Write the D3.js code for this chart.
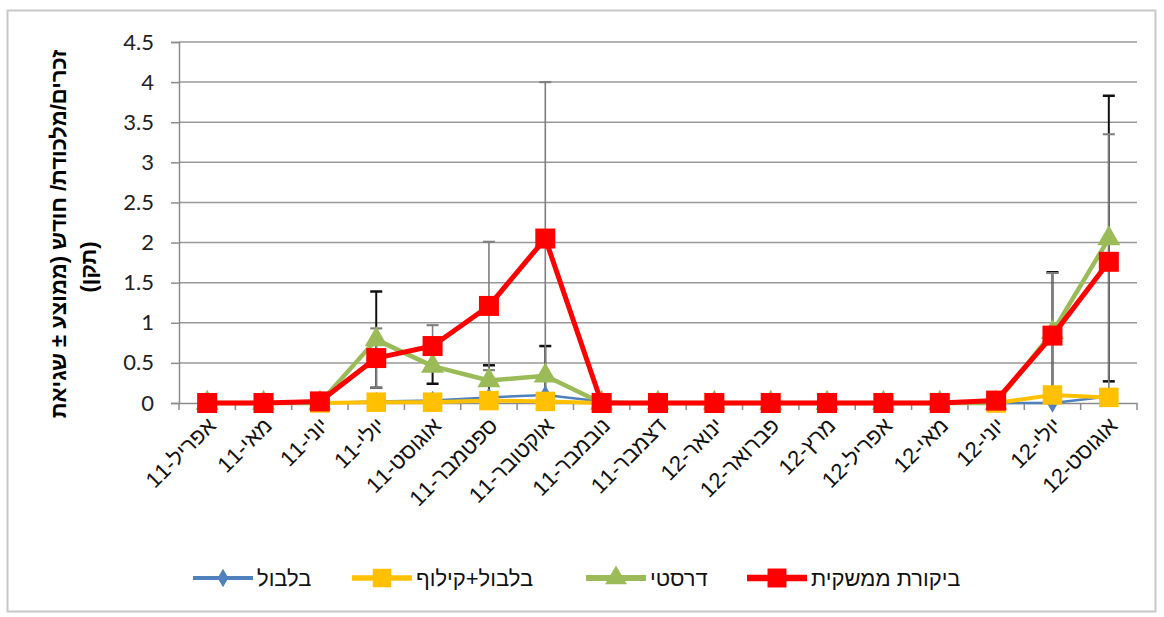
<!DOCTYPE html>
<html>
<head>
<meta charset="utf-8">
<script src="https://cdn.jsdelivr.net/npm/d3@7"></script>
<style>
  body { margin: 0; background: #fff; }
  text { font-family: 'Liberation Sans', Arial, sans-serif; }
</style>
</head>
<body>
<script>
// months on the x axis (Hebrew, mmm-yy)
const months = ['אפריל-11', 'מאי-11', 'יוני-11', 'יולי-11', 'אוגוסט-11', 'ספטמבר-11', 'אוקטובר-11',
  'נובמבר-11', 'דצמבר-11', 'ינואר-12', 'פברואר-12', 'מרץ-12', 'אפריל-12', 'מאי-12', 'יוני-12',
  'יולי-12', 'אוגוסט-12'];

const yTicks = [0, 0.5, 1, 1.5, 2, 2.5, 3, 3.5, 4, 4.5];

const blbul      = [0, 0, 0, 0.02, 0.03, 0.07, 0.1, 0.02, 0, 0, 0, 0, 0, 0, 0, 0, 0.08];
const blbulKilof = [0, 0, 0, 0.01, 0.01, 0.03, 0.02, 0, 0, 0, 0, 0, 0, 0, 0, 0.1, 0.07];
const drasti     = [0, 0, 0, 0.79, 0.46, 0.28, 0.34, 0, 0, 0, 0, 0, 0, 0, 0, 0.88, 2.05];
const bikoret    = [0, 0, 0.02, 0.56, 0.71, 1.21, 2.05, 0, 0, 0, 0, 0, 0, 0, 0.03, 0.84, 1.76];

// standard error (null = no bar)
const drastiErr  = [null, null, null, 0.6, 0.22, 0.19, 0.37, null, null, null, null, null, null, null, null, 0.75, 1.78];
const bikoretErr = [null, null, null, 0.37, 0.26, 0.8, 1.95, null, null, null, null, null, null, null, null, 0.78, 1.59];

const yTitle1 = 'זכרים/מלכודת/ חודש (ממוצע ± שגיאת';
const yTitle2 = '(תקן)';

const series = [
  { name: 'בלבול', values: blbul, color: '#4f81bd', symbol: d3.symbolDiamond, size: 110, width: 2.5 },
  { name: 'בלבול+קילוף', values: blbulKilof, color: '#ffc000', symbol: d3.symbolSquare, size: 380, width: 4 },
  { name: 'דרסטי', values: drasti, color: '#9bbb59', symbol: d3.symbolTriangle, size: 230, width: 4.5, err: drastiErr, errColor: '#111' },
  { name: 'ביקורת ממשקית', values: bikoret, color: '#ff0000', symbol: d3.symbolSquare, size: 400, width: 5, err: bikoretErr, errColor: '#7f7f7f' }
];

const W = 1164, H = 617;
const plot = { left: 179, right: 1137, top: 42, bottom: 403 };

const svg = d3.select('body').append('svg').attr('width', W).attr('height', H);

svg.append('rect')
  .attr('x', 7.5).attr('y', 10.5).attr('width', 1148).attr('height', 601)
  .attr('fill', '#fff').attr('stroke', '#c8c8c8').attr('stroke-width', 2);

const x = d3.scaleBand().domain(months).range([plot.left, plot.right]);
const y = d3.scaleLinear().domain([0, 4.5]).range([plot.bottom, plot.top]);
const cx = (i) => x(months[i]) + x.bandwidth() / 2;

// gridlines
svg.append('g').selectAll('line').data(yTicks.slice(1)).join('line')
  .attr('x1', plot.left).attr('x2', plot.right)
  .attr('y1', (d) => y(d)).attr('y2', (d) => y(d))
  .attr('stroke', '#989898').attr('stroke-width', 1.5);

// y axis
const yAxis = svg.append('g').attr('transform', `translate(${plot.left},0)`)
  .call(d3.axisLeft(y).tickValues(yTicks).tickFormat((d) => String(d)).tickSize(8).tickPadding(17));
yAxis.select('.domain').attr('stroke', '#8c8c8c').attr('stroke-width', 1.5);
yAxis.selectAll('.tick line').attr('stroke', '#8c8c8c').attr('stroke-width', 1.5);
yAxis.selectAll('.tick text').style('font-size', '22px').attr('fill', '#222')
  .style('font-family', 'Lato, "Liberation Sans", sans-serif');

// x axis
const xAxis = svg.append('g').attr('transform', `translate(0,${plot.bottom})`)
  .call(d3.axisBottom(x).tickSize(0).tickFormat(''));
xAxis.select('.domain').attr('stroke', '#8c8c8c').attr('stroke-width', 1.5);
svg.append('g').selectAll('line').data(d3.range(months.length + 1)).join('line')
  .attr('x1', (i) => plot.left + i * x.step()).attr('x2', (i) => plot.left + i * x.step())
  .attr('y1', plot.bottom).attr('y2', plot.bottom + 7)
  .attr('stroke', '#8c8c8c').attr('stroke-width', 1.5);

svg.append('g').selectAll('text').data(months).join('text')
  .attr('transform', (d, i) => `translate(${cx(i) + 10},${plot.bottom + 24}) rotate(-45)`)
  .attr('text-anchor', 'end')
  .style('font-size', '22px').attr('fill', '#111')
  .text((d) => d);

// y title
svg.append('text')
  .attr('transform', 'translate(66,234) rotate(-90)')
  .attr('text-anchor', 'middle').style('font-size', '22px').style('font-weight', 'bold')
  .text(yTitle1);
svg.append('text')
  .attr('transform', 'translate(96,267) rotate(-90)')
  .attr('text-anchor', 'middle').style('font-size', '22px').style('font-weight', 'bold')
  .text(yTitle2);

// error bars (behind lines)
series.filter((s) => s.err).forEach((s) => {
  const g = svg.append('g');
  s.err.forEach((e, i) => {
    if (e == null) return;
    const lo = y(Math.max(0, s.values[i] - e)), hi = y(s.values[i] + e), px = cx(i);
    const sw = s.errColor === '#111' ? 2 : 1.6;
    g.append('line').attr('x1', px).attr('x2', px).attr('y1', lo).attr('y2', hi)
      .attr('stroke', s.errColor).attr('stroke-width', sw);
    [lo, hi].forEach((yy) => g.append('line')
      .attr('x1', px - 6).attr('x2', px + 6).attr('y1', yy).attr('y2', yy)
      .attr('stroke', s.errColor).attr('stroke-width', sw + 0.5));
  });
});

// series lines and markers
const line = d3.line().x((d, i) => cx(i)).y((d) => y(d));
series.forEach((s) => {
  svg.append('path').datum(s.values)
    .attr('d', line).attr('fill', 'none')
    .attr('stroke', s.color).attr('stroke-width', s.width).attr('stroke-linejoin', 'round');
  svg.append('g').selectAll('path').data(s.values).join('path')
    .attr('transform', (d, i) => `translate(${cx(i)},${y(d)})`)
    .attr('d', d3.symbol(s.symbol, s.size)).attr('fill', s.color);
});

// legend
const legendX = [193, 352, 586, 747];
const legend = svg.append('g').attr('transform', 'translate(0,578)');
series.forEach((s, i) => {
  const g = legend.append('g').attr('transform', `translate(${legendX[i]},0)`);
  g.append('line').attr('x1', 0).attr('x2', 60).attr('y1', 0).attr('y2', 0)
    .attr('stroke', s.color).attr('stroke-width', s.width + 1.5);
  g.append('path').attr('transform', 'translate(30,0)')
    .attr('d', d3.symbol(s.symbol, s.size * 0.9)).attr('fill', s.color);
  g.append('text').attr('x', 64).attr('y', 8).style('font-size', '22px').attr('fill', '#111')
    .text(s.name);
});
</script>
</body>
</html>
